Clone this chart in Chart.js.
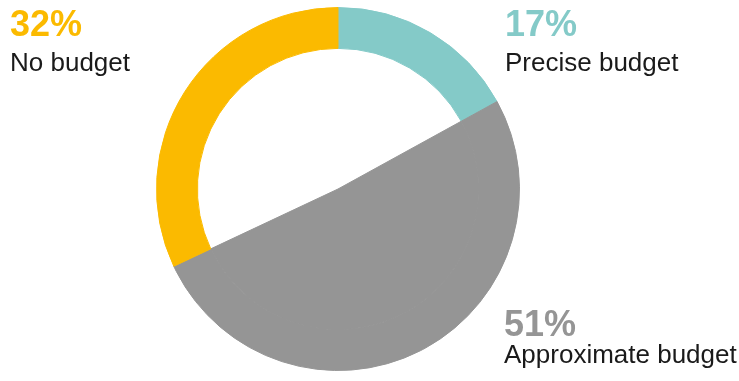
<!DOCTYPE html>
<html>
<head>
<meta charset="utf-8">
<script src="https://cdn.jsdelivr.net/npm/chart.js@4.4.1/dist/chart.umd.min.js"></script>
<style>
  html, body { margin: 0; padding: 0; background: #fff; }
  #wrap { width: 739px; height: 381px; position: relative; }
</style>
</head>
<body>
<div id="wrap"><canvas id="budgetChart"></canvas></div>
<script>
const labels = ["Precise budget", "Approximate budget", "No budget"];
const shares = [17, 51, 32];
const colors = ["#84cac8", "#959595", "#fbba00"];

// gray slice runs all the way to the centre, the others are a ring
const solidSlice = [false, true, false];
const clear = "rgba(0,0,0,0)";
const innerColors = colors.map((c, i) => solidSlice[i] ? c : clear);

// text spots for each slice: x, baseline of the % and of the label
const labelSpots = [
    { x: 505, y1: 36, y2: 71 },
    { x: 504, y1: 336, y2: 363 },
    { x: 10, y1: 36, y2: 71 }
];

const labelPlugin = {
    id: "sliceLabels",
    afterDraw(chart) {
        const ctx = chart.ctx;
        ctx.save();
        ctx.textAlign = "left";
        ctx.textBaseline = "alphabetic";
        labels.forEach((lab, i) => {
            const p = labelSpots[i];
            ctx.fillStyle = colors[i];
            ctx.font = "bold 36px 'Liberation Sans', Arial, sans-serif";
            ctx.fillText(shares[i] + "%", p.x, p.y1);
            ctx.fillStyle = "#1a1a1a";
            ctx.font = "26px 'Liberation Sans', Arial, sans-serif";
            ctx.fillText(lab, p.x, p.y2);
        });
        ctx.restore();
    }
};

new Chart(document.getElementById("budgetChart"), {
    type: "doughnut",
    data: {
        labels: labels,
        datasets: [{
            data: shares,
            backgroundColor: colors,
            borderColor: colors,
            borderWidth: 1,
            weight: 41
        }, {
            data: shares,
            backgroundColor: innerColors,
            borderColor: innerColors,
            borderWidth: 1,
            weight: 141
        }]
    },
    options: {
        responsive: true,
        maintainAspectRatio: false,
        animation: false,
        cutout: 0,
        layout: { padding: { left: 0, right: 63, top: 7, bottom: 10 } },
        plugins: {
            legend: { display: false },
            tooltip: { enabled: false }
        },
        events: []
    },
    plugins: [labelPlugin]
});
</script>
</body>
</html>
